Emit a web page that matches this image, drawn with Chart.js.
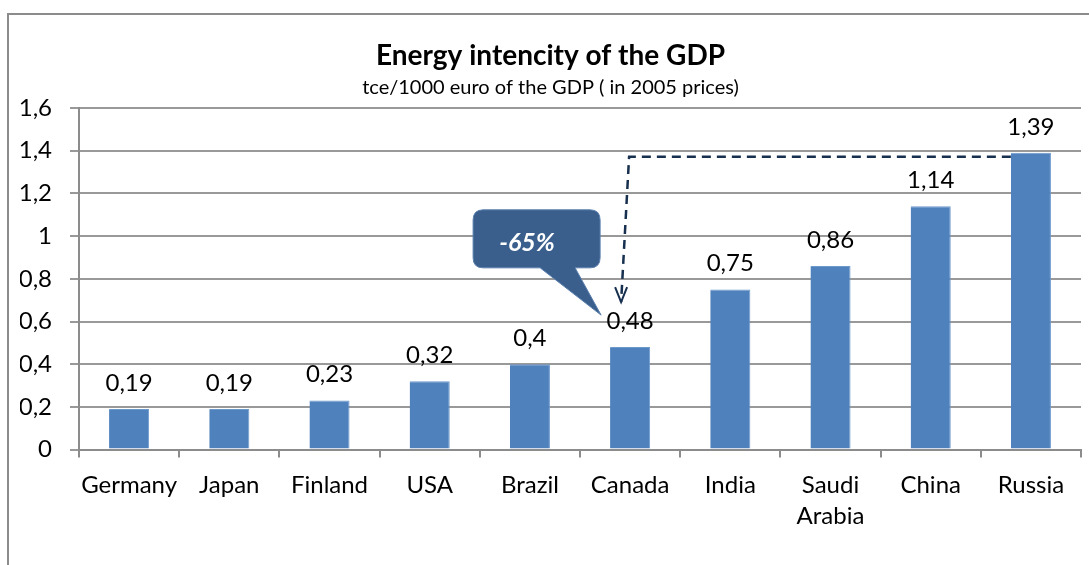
<!DOCTYPE html>
<html>
<head>
<meta charset="utf-8">
<script src="https://cdn.jsdelivr.net/npm/chart.js@4"></script>
<style>
  html, body { margin: 0; padding: 0; background: #fff; }
  #wrap { width: 1089px; height: 565px; position: relative; }
</style>
</head>
<body>
<div id="wrap"><canvas id="energyChart"></canvas></div>
<script>
  const countries = ['Germany', 'Japan', 'Finland', 'USA', 'Brazil', 'Canada', 'India', ['Saudi', 'Arabia'], 'China', 'Russia'];
  const intensity = [0.19, 0.19, 0.23, 0.32, 0.4, 0.48, 0.75, 0.86, 1.14, 1.39];
  const yTicks = [0, 0.2, 0.4, 0.6, 0.8, 1, 1.2, 1.4, 1.6];
  const calloutText = '-65%';

  const FONT = 'Lato, "Open Sans", sans-serif';
  const fmt = v => String(Math.round(v * 100) / 100).replace('.', ',');

  // frame around the chart (only top and left visible in the crop)
  const framePlugin = {
    id: 'frame',
    beforeDraw(chart) {
      const c = chart.ctx;
      c.save();
      c.strokeStyle = '#8c8c8c';
      c.lineWidth = 2;
      c.beginPath();
      c.moveTo(8, chart.height);
      c.lineTo(8, 14);
      c.lineTo(chart.width, 14);
      c.stroke();
      c.restore();
    }
  };

  // value labels above bars
  const valueLabels = {
    id: 'valueLabels',
    afterDatasetsDraw(chart) {
      const c = chart.ctx;
      const meta = chart.getDatasetMeta(0);
      c.save();
      c.font = '24px ' + FONT;
      c.fillStyle = '#000';
      c.textAlign = 'center';
      c.textBaseline = 'alphabetic';
      meta.data.forEach((bar, i) => {
        c.fillText(fmt(intensity[i]), bar.x, bar.y - 18);
      });
      c.restore();
    }
  };

  // dashed arrow Russia -> Canada and the -65% callout
  const reduction = {
    id: 'reduction',
    afterDraw(chart) {
      const c = chart.ctx;
      const xs = chart.scales.x, ys = chart.scales.y;
      const bars = chart.getDatasetMeta(0).data;
      const cx = xs.getPixelForValue(5);
      const cy = ys.getPixelForValue(intensity[5]);
      const rLeft = bars[9].x - bars[9].width / 2;
      const hy = ys.getPixelForValue(intensity[9]) + 4;
      const tipX = cx - 9, tipY = cy - 45;

      c.save();
      c.strokeStyle = '#17304f';
      c.lineWidth = 2.5;
      c.setLineDash([9, 6]);
      c.beginPath();
      c.moveTo(rLeft, hy);
      c.lineTo(cx - 1, hy);
      c.lineTo(tipX, tipY);
      c.stroke();
      c.setLineDash([]);
      c.lineWidth = 2;
      c.beginPath();
      c.moveTo(tipX - 6, tipY - 15);
      c.lineTo(tipX, tipY);
      c.lineTo(tipX + 6, tipY - 15);
      c.stroke();

      // callout
      const bx = cx - 157, by = hy + 53, bw = 127, bh = 58, r = 10;
      c.fillStyle = '#3a5f8c';
      c.strokeStyle = '#5a7fae';
      c.lineWidth = 1;
      c.beginPath();
      c.moveTo(bx + r, by);
      c.lineTo(bx + bw - r, by);
      c.quadraticCurveTo(bx + bw, by, bx + bw, by + r);
      c.lineTo(bx + bw, by + bh - r);
      c.quadraticCurveTo(bx + bw, by + bh, bx + bw - r, by + bh);
      c.lineTo(cx - 55, by + bh);
      c.lineTo(cx - 29, cy - 32);
      c.lineTo(cx - 90, by + bh);
      c.lineTo(bx + r, by + bh);
      c.quadraticCurveTo(bx, by + bh, bx, by + bh - r);
      c.lineTo(bx, by + r);
      c.quadraticCurveTo(bx, by, bx + r, by);
      c.closePath();
      c.fill();
      c.stroke();

      c.fillStyle = '#fff';
      c.font = 'italic bold 25px ' + FONT;
      c.textAlign = 'center';
      c.textBaseline = 'middle';
      c.fillText(calloutText, cx - 103, by + 33);
      c.restore();
    }
  };

  const ctx = document.getElementById('energyChart').getContext('2d');
  new Chart(ctx, {
    type: 'bar',
    data: {
      labels: countries,
      datasets: [{
        label: 'Energy intensity',
        data: intensity,
        backgroundColor: '#4f81bd',
        borderColor: '#6d98cc',
        borderWidth: { left: 0, right: 1, top: 1, bottom: 0 },
        barPercentage: 0.4,
        categoryPercentage: 1
      }]
    },
    options: {
      responsive: true,
      maintainAspectRatio: false,
      animation: false,
      layout: { padding: { left: 20, right: 8, top: 0, bottom: 21 } },
      plugins: {
        legend: { display: false },
        tooltip: { enabled: false },
        title: {
          display: true,
          text: 'Energy intencity of the GDP',
          color: '#000',
          font: { family: FONT, size: 28, weight: 'bold' },
          padding: { top: 39, bottom: 0 }
        },
        subtitle: {
          display: true,
          text: 'tce/1000 euro of the GDP ( in 2005 prices)',
          color: '#000',
          font: { family: FONT, size: 20 },
          padding: { top: 3, bottom: 8.4 }
        }
      },
      scales: {
        x: {
          grid: { drawOnChartArea: false, drawTicks: true, tickLength: 8, color: '#8c8c8c', lineWidth: 2 },
          border: { color: '#8c8c8c', width: 2 },
          ticks: { color: '#000', font: { family: FONT, size: 24, lineHeight: 1.3 }, padding: 12, maxRotation: 0, autoSkip: false }
        },
        y: {
          min: 0,
          max: 1.6,
          afterFit(scale) { scale.width = 59; },
          afterBuildTicks(scale) { scale.ticks = yTicks.map(v => ({ value: v })); },
          grid: { color: '#999', lineWidth: 2, tickLength: 9 },
          border: { color: '#8c8c8c', width: 2 },
          ticks: { color: '#000', font: { family: FONT, size: 24 }, padding: 18, callback: v => fmt(v) }
        }
      }
    },
    plugins: [framePlugin, valueLabels, reduction]
  });
</script>
</body>
</html>
